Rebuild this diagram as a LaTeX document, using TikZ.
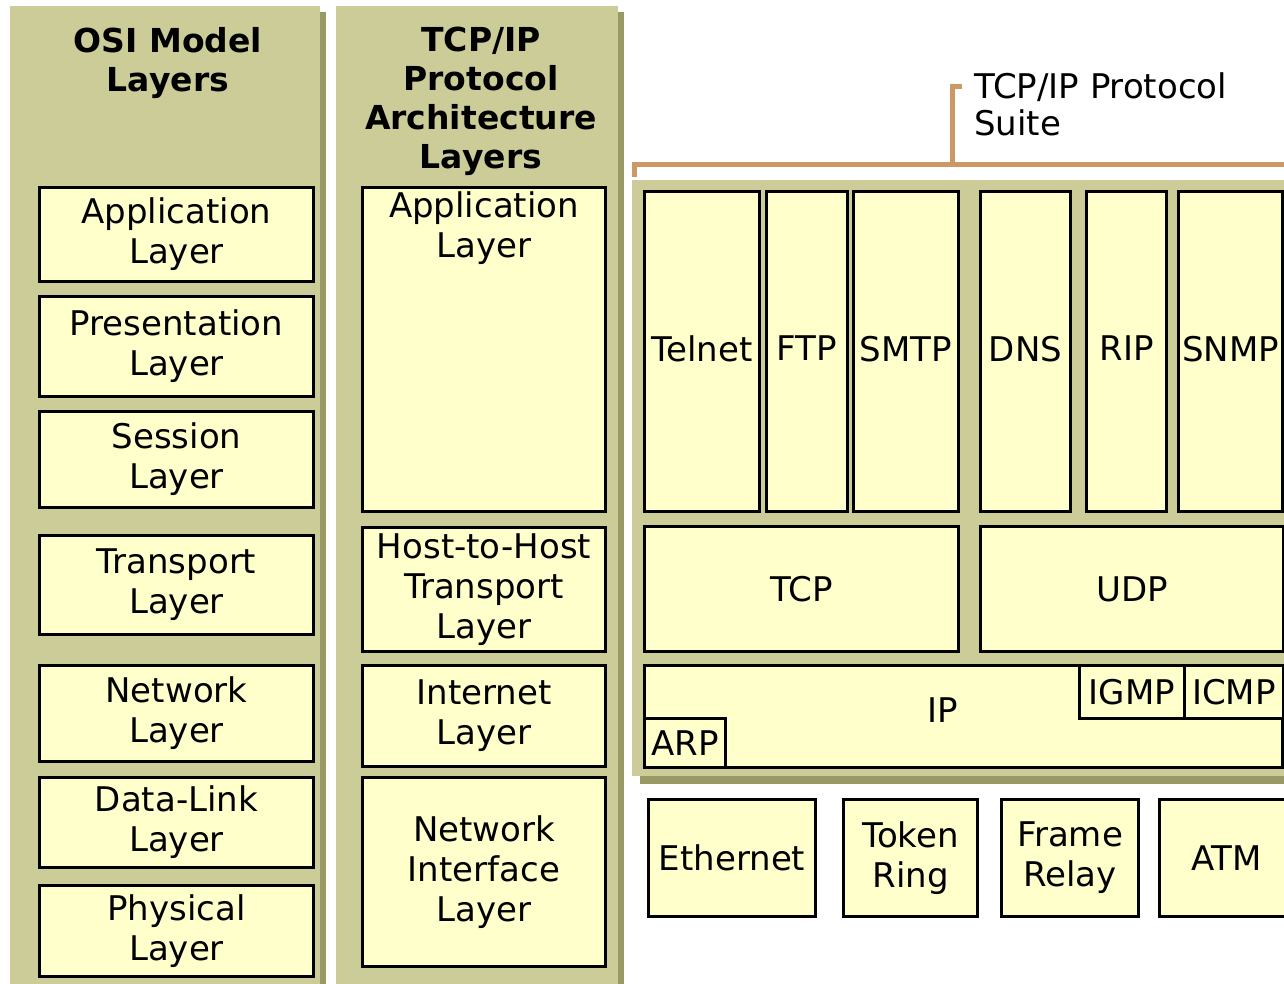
\documentclass[tikz,border=0pt]{standalone}
\usepackage{fontspec}
\setmainfont{DejaVu Sans}
\definecolor{panelc}{HTML}{CCCC99}
\definecolor{shadowc}{HTML}{999966}
\definecolor{boxc}{HTML}{FFFFCC}
\definecolor{bracketc}{HTML}{CC9966}
\begin{document}
\begin{tikzpicture}[x=1pt,y=-1pt,
  panel/.style={fill=panelc,draw=none},
  shadowfill/.style={fill=shadowc,draw=none},
  box/.style={draw=black,line width=3pt,fill=boxc,anchor=north west,inner sep=0pt,align=center,font=\fontsize{34}{40}\selectfont},
  txt/.style={inner sep=0pt,align=center,font=\fontsize{34}{40}\selectfont},
  head/.style={inner sep=0pt,align=center,font=\bfseries\fontsize{33}{39}\selectfont},
  bracket/.style={draw=bracketc,line width=5pt}
]
\clip (0,0) rectangle (1284,984);
\fill[white] (0,0) rectangle (1284,984);
% panels and shadows
\fill[shadowfill] (320,12) rectangle (326,984);
\fill[panel] (10,6) rectangle (320,984);
\fill[shadowfill] (618,12) rectangle (624,984);
\fill[panel] (336,6) rectangle (618,984);
\fill[shadowfill] (640,776) rectangle (1284,784);
\fill[panel] (632,180) rectangle (1284,776);
% headers
\node[head] (osititle) at (168,63) {OSI Model\\Layers};
\node[head] (tcptitle) at (481,101) {TCP/IP\\Protocol\\Architecture\\Layers};
% OSI layers
\node[box,minimum width=274,minimum height=94] (osiapp) at (38,186) {Application\\Layer};
\node[box,minimum width=274,minimum height=100] (osipres) at (38,295) {Presentation\\Layer};
\node[box,minimum width=274,minimum height=96] (osisess) at (38,410) {Session\\Layer};
\node[box,minimum width=274,minimum height=99] (ositrans) at (38,534) {Transport\\Layer};
\node[box,minimum width=274,minimum height=96] (osinet) at (38,664) {Network\\Layer};
\node[box,minimum width=274,minimum height=90] (osidl) at (38,776) {Data-Link\\Layer};
\node[box,minimum width=274,minimum height=91] (osiphys) at (38,884) {Physical\\Layer};
% TCP/IP architecture layers
\node[box,minimum width=243,minimum height=324] (arapp) at (361,186) {};
\node[txt] (arapptext) at (484,228) {Application\\Layer};
\node[box,minimum width=243,minimum height=124] (arhost) at (361,526) {Host-to-Host\\Transport\\Layer};
\node[box,minimum width=243,minimum height=101] (arinet) at (361,664) {Internet\\Layer};
\node[box,minimum width=243,minimum height=189] (arnif) at (361,776) {Network\\Interface\\Layer};
% bracket
\coordinate (bl) at (634,177);
\coordinate (bc) at (952,165);
\coordinate (bt) at (952,87);
\coordinate (btr) at (962,87);
\coordinate (br) at (1290,165);
\draw[bracket] (bl) |- (br);
\draw[bracket] (bc) -- (bt) -- (btr);
\node[inner sep=0pt,anchor=north west,align=left,font=\fontsize{34}{37}\selectfont] (suite) at (974,72) {TCP/IP Protocol\\Suite};
% applications
\node[box,minimum width=115,minimum height=320] (telnet) at (643,190) {\raisebox{6pt}{Telnet}};
\node[box,minimum width=81,minimum height=320] (ftp) at (765,190) {\raisebox{6pt}{FTP}};
\node[box,minimum width=105,minimum height=320] (smtp) at (852,190) {\raisebox{6pt}{SMTP}};
\node[box,minimum width=90,minimum height=320] (dns) at (979,190) {\raisebox{6pt}{DNS}};
\node[box,minimum width=80,minimum height=320] (rip) at (1085,190) {\raisebox{6pt}{RIP}};
\node[box,minimum width=104,minimum height=320] (snmp) at (1177,190) {\raisebox{6pt}{SNMP}};
% transport
\node[box,minimum width=314,minimum height=125] (tcp) at (643,525) {TCP};
\node[box,minimum width=303,minimum height=125] (udp) at (979,525) {UDP};
% internet
\node[box,minimum width=638,minimum height=102] (ip) at (643,664) {};
\node[txt] (iptext) at (943,710) {IP};
\node[box,minimum width=105,minimum height=53] (igmp) at (1078,664) {IGMP};
\node[box,minimum width=99,minimum height=53] (icmp) at (1183,664) {ICMP};
\node[box,minimum width=81,minimum height=49] (arp) at (643,717) {ARP};
% network interface
\node[box,minimum width=167,minimum height=117] (eth) at (647,798) {Ethernet};
\node[box,minimum width=134,minimum height=117] (token) at (842,798) {Token\\Ring};
\node[box,minimum width=137,minimum height=117] (frame) at (1000,798) {Frame\\Relay};
\node[box,minimum width=134,minimum height=117] (atm) at (1158,798) {ATM};
\end{tikzpicture}
\end{document}
